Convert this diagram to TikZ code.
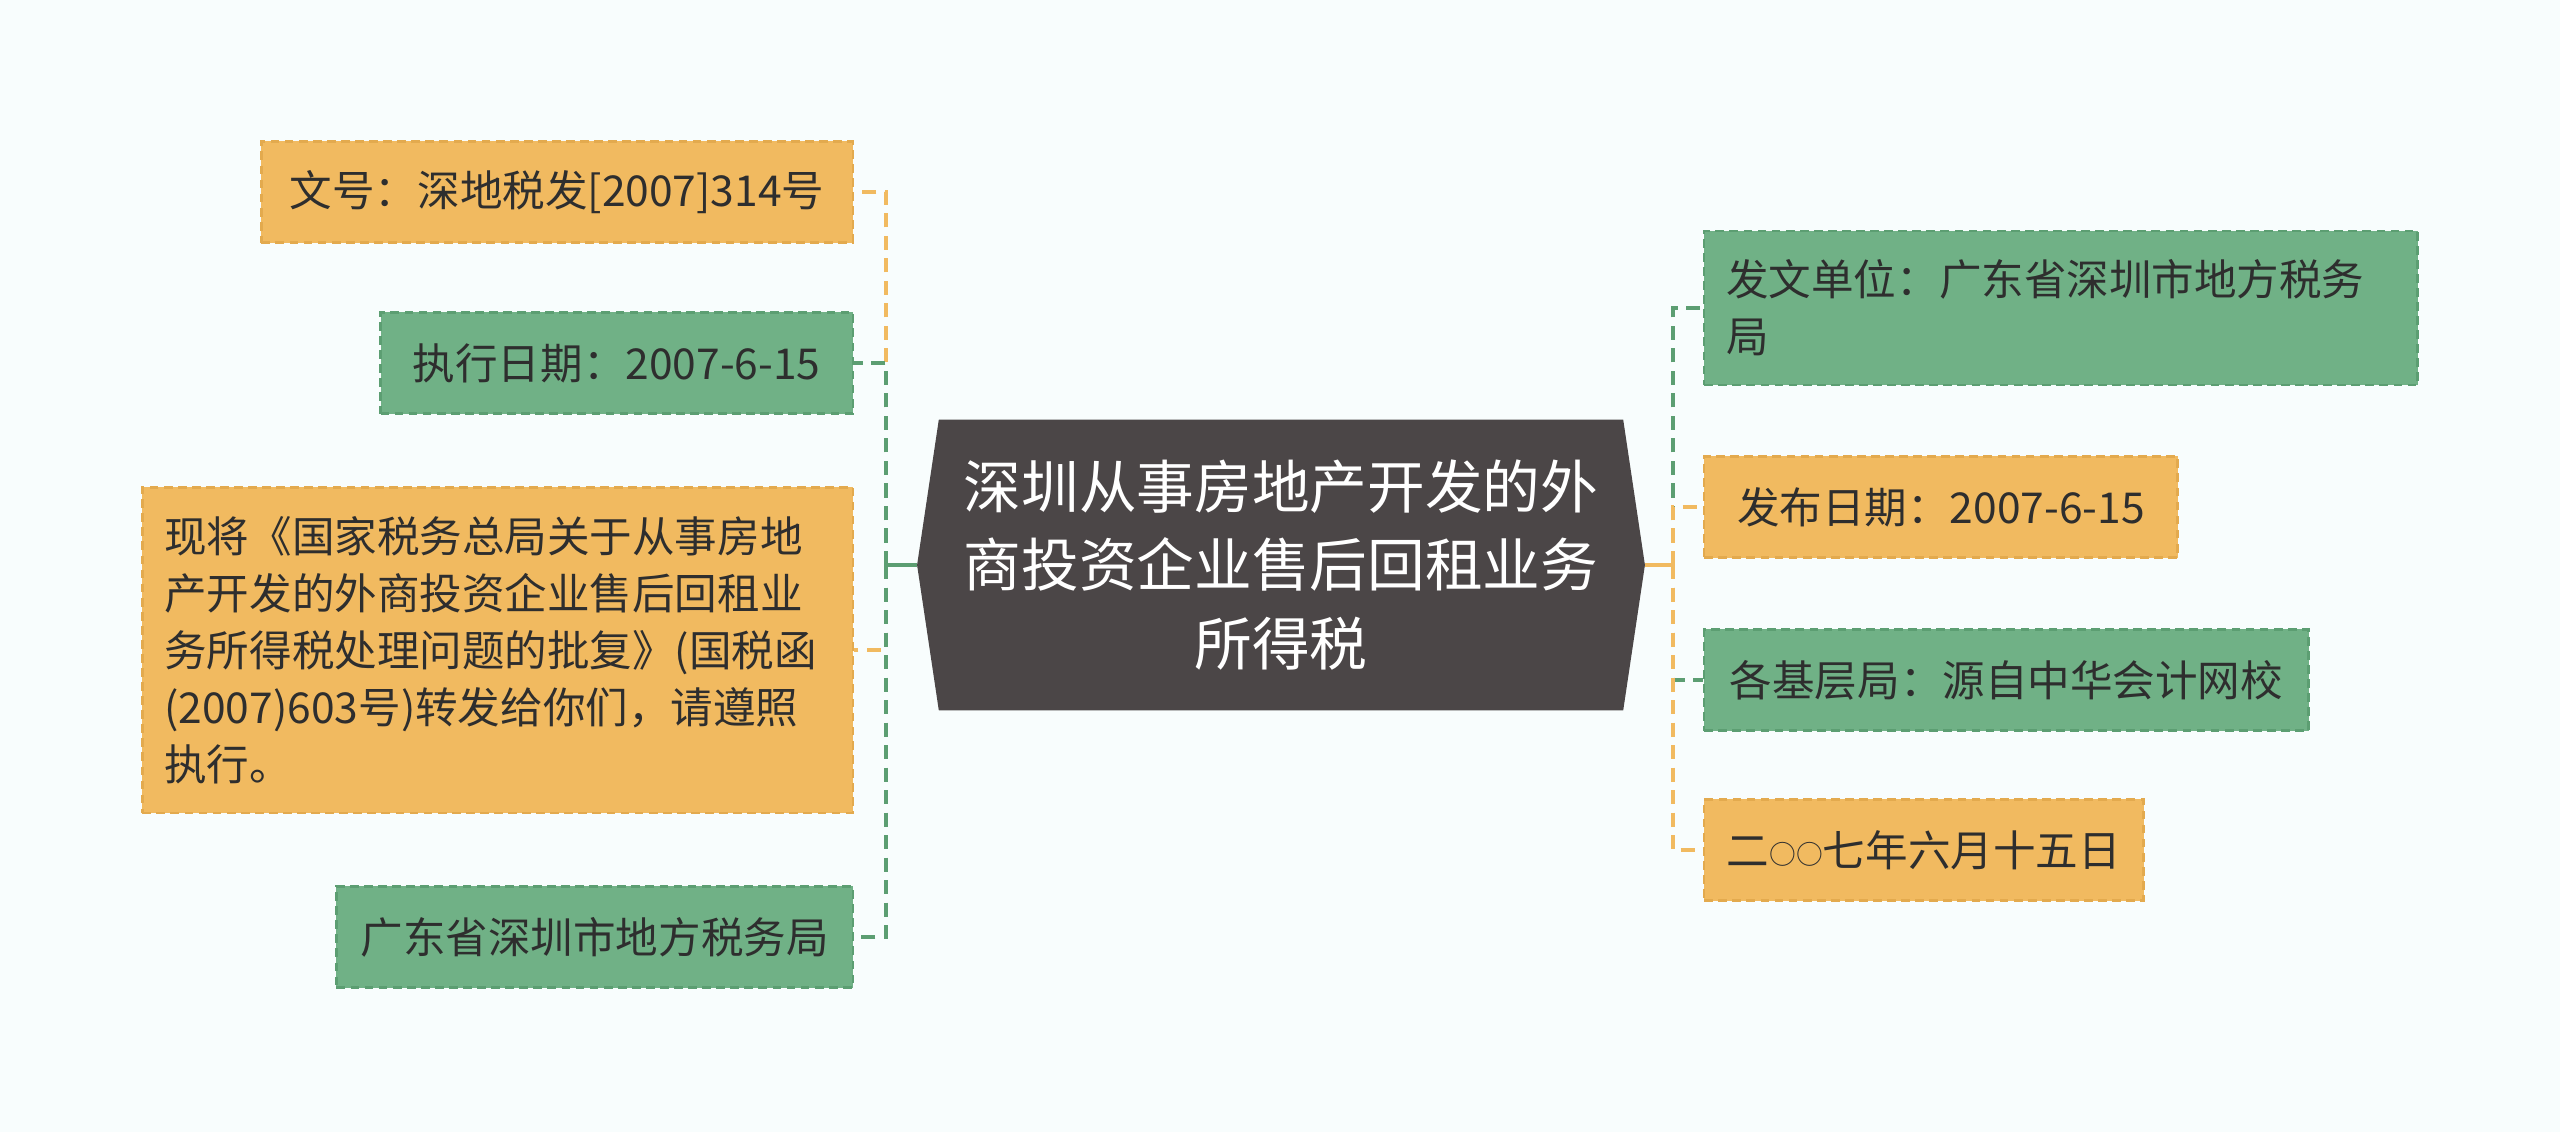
\documentclass[tikz,border=0pt]{standalone}
\usepackage{fontspec}
\setmainfont{Noto Sans CJK SC}
\usepackage{xcolor}
\usepackage{tikz}
\usetikzlibrary{shapes.symbols, positioning, calc}
\definecolor{bgcol}{HTML}{F8FDFD}
\definecolor{rootfill}{HTML}{4B4647}
\definecolor{orangefill}{HTML}{F1BA60}
\definecolor{orangeline}{HTML}{E3AA4E}
\definecolor{greenfill}{HTML}{70B186}
\definecolor{greenline}{HTML}{5C9E72}
\definecolor{textcol}{HTML}{2E2E2E}
\newcommand{\smallring}{{\fontsize{7.6pt}{16.2pt}\selectfont\raisebox{0.6pt}{○○}}}
\tikzset{
    rootbox/.style={signal, signal to=west and east, signal pointer angle=163, fill=rootfill, draw=rootfill, text=white, minimum width=7.26cm, minimum height=2.89cm, text width=6.6cm, align=center, inner sep=0pt, font=\fontsize{16.4pt}{22.2pt}\selectfont},
    leafbox/.style={rectangle, line width=0.7pt, dash pattern=on 2.5pt off 1.5pt, minimum height=1.01cm, inner xsep=0.22cm, inner ysep=0.29cm, text=textcol, font=\fontsize{12.1pt}{16.2pt}\selectfont},
    orangebox/.style={leafbox, fill=orangefill, draw=orangeline},
    greenbox/.style={leafbox, fill=greenfill, draw=greenline}
}
\begin{document}
\begin{tikzpicture}[x=0.01cm, y=-0.01cm,
  orangelink/.style={draw=orangefill, line width=1pt, dash pattern=on 4pt off 2.4pt},
  greenlink/.style={draw=greenline, line width=1pt, dash pattern=on 4pt off 2.4pt},
  stem/.style={line width=1pt}]
  \fill[bgcol] (0,0) rectangle (2560,1132);
  \useasboundingbox (0,0) rectangle (2560,1132);
  \node[rootbox] (root) at (1281,565) {深圳从事房地产开发的外\\商投资企业售后回租业务\\所得税};
  \coordinate (ljoin) at (886,565);
  \coordinate (rjoin) at (1673,565);
  \node[orangebox, anchor=east, minimum width=5.91cm] (l1) at (854,192) {文号：深地税发[2007]314号};
  \node[greenbox, anchor=east, minimum width=4.72cm] (l2) at (854,363) {执行日期：2007-6-15};
  \node[orangebox, anchor=east, text width=6.66cm, align=left] (l3) at (854,650) {现将《国家税务总局关于从事房地\\产开发的外商投资企业售后回租业\\务所得税处理问题的批复》(国税函\\(2007)603号)转发给你们，请遵照\\执行。};
  \node[greenbox, anchor=east, minimum width=5.16cm] (l4) at (854,937) {广东省深圳市地方税务局};
  \node[greenbox, anchor=west, text width=6.69cm, align=left] (r1) at (1703,308) {发文单位：广东省深圳市地方税务\\局};
  \node[orangebox, anchor=west, minimum width=4.73cm] (r2) at (1703,507) {发布日期：2007-6-15};
  \node[greenbox, anchor=west, minimum width=6.04cm] (r3) at (1703,680) {各基层局：源自中华会计网校};
  \node[orangebox, anchor=west, minimum width=4.39cm] (r4) at (1703,850) {二\smallring 七年六月十五日};
  \draw[stem, greenline] (root.west) -- (ljoin);
  \draw[stem, orangefill] (root.east) -- (rjoin);
  \draw[orangelink] (ljoin) |- (l1.east);
  \draw[greenlink] (ljoin) |- (l2.east);
  \draw[orangelink] (ljoin) |- (l3.east);
  \draw[greenlink] (ljoin) |- (l4.east);
  \draw[greenlink] (rjoin) |- (r1.west);
  \draw[orangelink] (rjoin) |- (r2.west);
  \draw[greenlink] (rjoin) |- (r3.west);
  \draw[orangelink] (rjoin) |- (r4.west);
\end{tikzpicture}
\end{document}
